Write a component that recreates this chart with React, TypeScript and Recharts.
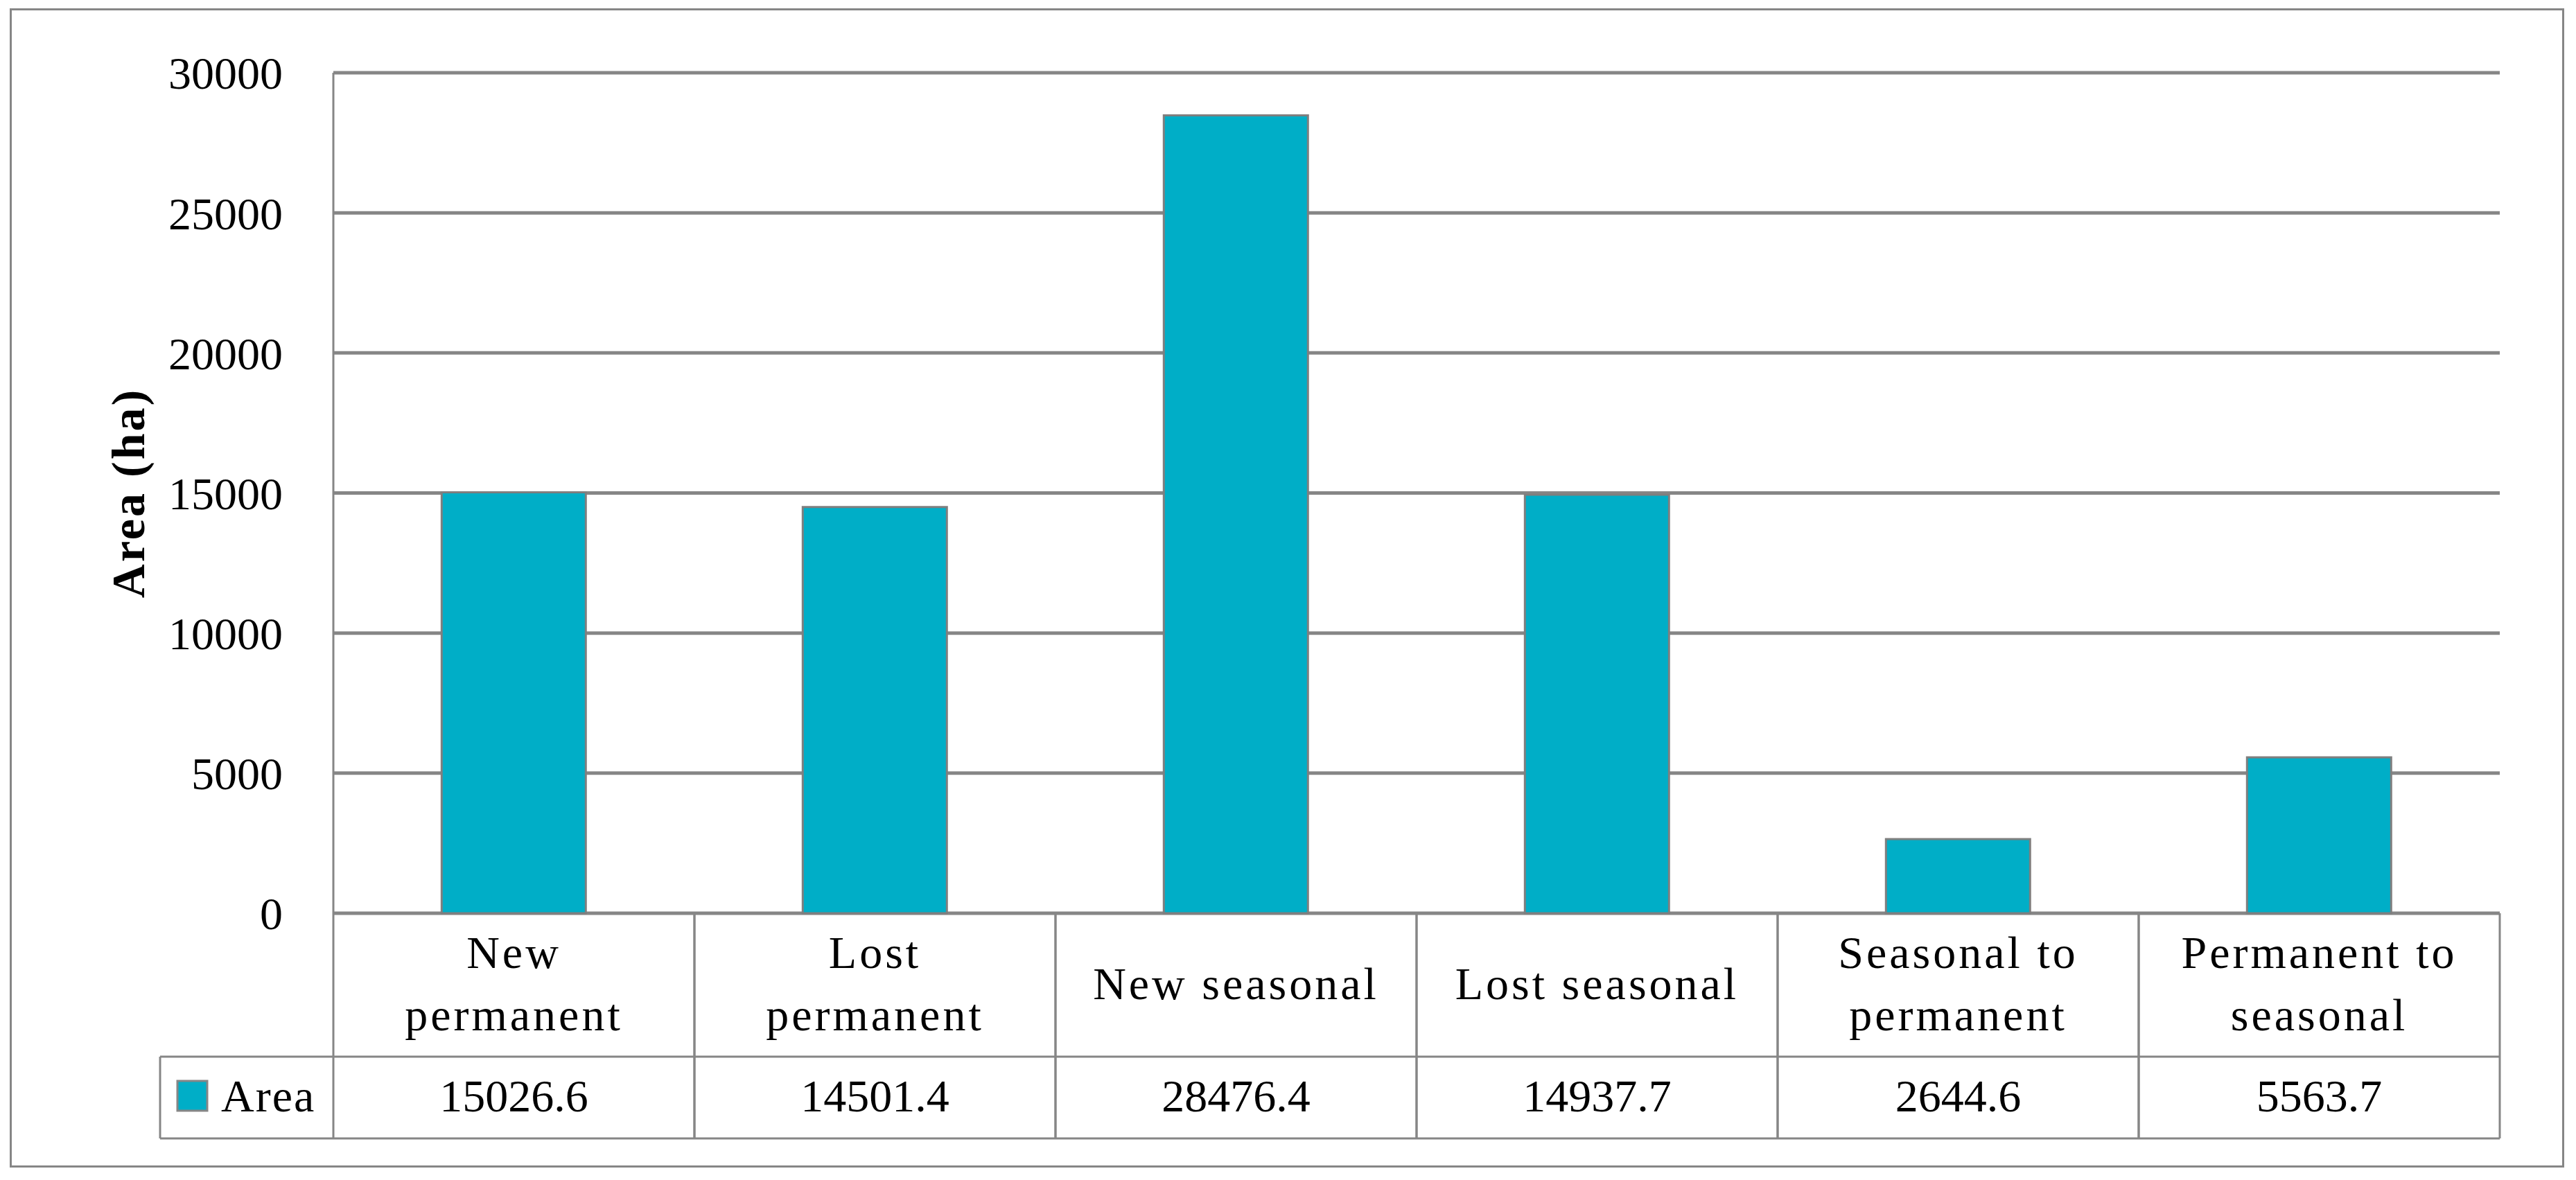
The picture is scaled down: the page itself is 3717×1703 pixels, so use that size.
import { Bar, BarChart, CartesianGrid, XAxis, YAxis } from 'recharts'

const categories = ['New\npermanent', 'Lost\npermanent', 'New seasonal', 'Lost seasonal', 'Seasonal to\npermanent', 'Permanent to\nseasonal']
const areaValues = [15026.6, 14501.4, 28476.4, 14937.7, 2644.6, 5563.7]
const yTicks = [0, 5000, 10000, 15000, 20000, 25000, 30000]
const seriesName = 'Area'
const yTitle = 'Area (ha)'

const data = categories.map((category, i) => ({ category, area: areaValues[i] }))

const W = 3717
const H = 1703
const PLOT_LEFT = 481
const PLOT_RIGHT = 3607
const PLOT_TOP = 105
const PLOT_BOTTOM = 1318
const ROW1 = 207
const ROW2 = 118
const LEGEND_LEFT = 231
const BAND = (PLOT_RIGHT - PLOT_LEFT) / categories.length
const GRAY = '#868686'
const TEAL = '#00AEC7'
const FONT = '"Liberation Serif", "Times New Roman", serif'

const TableTick = (props: any) => {
    const { x, y, payload } = props
    const index = props.index ?? payload.index
    const lines = String(payload.value).split('\n')
    const half = BAND / 2
    const mid1 = y + ROW1 / 2
    const mid2 = y + ROW1 + ROW2 / 2
    const bottom = y + ROW1 + ROW2
    return (
        <g>
            <line x1={x - half} x2={x - half} y1={y} y2={bottom} stroke={GRAY} strokeWidth={3} />
            <line x1={x + half} x2={x + half} y1={y} y2={bottom} stroke={GRAY} strokeWidth={3} />
            <line x1={x - half} x2={x + half} y1={y + ROW1} y2={y + ROW1} stroke={GRAY} strokeWidth={3} />
            <line x1={x - half} x2={x + half} y1={bottom} y2={bottom} stroke={GRAY} strokeWidth={3} />
            <text textAnchor='middle' fontFamily={FONT} fontSize={66} letterSpacing={4} fill='#000'>
                {lines.map((l, i) => (
                    <tspan key={i} x={x} y={mid1 + 20 + (i - (lines.length - 1) / 2) * 90}>{l}</tspan>
                ))}
            </text>
            <text x={x} y={mid2 + 20} textAnchor='middle' fontFamily={FONT} fontSize={66} fill='#000'>
                {areaValues[index].toFixed(1)}
            </text>
            {index === 0 && (
                <g>
                    <line x1={LEGEND_LEFT} x2={x - half} y1={y + ROW1} y2={y + ROW1} stroke={GRAY} strokeWidth={3} />
                    <line x1={LEGEND_LEFT} x2={x - half} y1={bottom} y2={bottom} stroke={GRAY} strokeWidth={3} />
                    <line x1={LEGEND_LEFT} x2={LEGEND_LEFT} y1={y + ROW1} y2={bottom} stroke={GRAY} strokeWidth={3} />
                    <rect x={LEGEND_LEFT + 25} y={mid2 - 24} width={43} height={43} fill={TEAL} stroke={GRAY} strokeWidth={3} />
                    <text x={LEGEND_LEFT + 88} y={mid2 + 20} fontFamily={FONT} fontSize={66} letterSpacing={2} fill='#000'>{seriesName}</text>
                </g>
            )}
        </g>
    )
}

export default function App() {
    return (
        <div style={{ position: 'absolute', left: 0, top: 0, width: W, height: H, background: '#fff' }}>
            <div style={{ position: 'absolute', left: 14, top: 12, width: 3686, height: 1673, border: `3px solid ${GRAY}`, boxSizing: 'border-box' }} />
            <div style={{ position: 'absolute', left: 0, top: 0 }}>
                <BarChart
                    width={W}
                    height={H}
                    data={data}
                    barCategoryGap='30%'
                    margin={{ top: PLOT_TOP, right: W - PLOT_RIGHT, left: PLOT_LEFT - 200, bottom: H - PLOT_BOTTOM - 325 }}
                >
                    <CartesianGrid vertical={false} stroke={GRAY} strokeWidth={5} />
                    <XAxis
                        dataKey='category'
                        interval={0}
                        height={325}
                        tickSize={0}
                        tickMargin={0}
                        axisLine={false}
                        tickLine={false}
                        tick={TableTick}
                    />
                    <YAxis
                        width={200}
                        domain={[0, 30000]}
                        ticks={yTicks}
                        interval={0}
                        tickSize={0}
                        tickMargin={73}
                        tickLine={false}
                        axisLine={{ stroke: GRAY, strokeWidth: 3 }}
                        tick={{ fill: '#000', fontSize: 66, fontFamily: FONT }}
                        label={{
                            content: () => (
                                <text
                                    x={185}
                                    y={(PLOT_TOP + PLOT_BOTTOM) / 2}
                                    transform={`rotate(-90, 185, ${(PLOT_TOP + PLOT_BOTTOM) / 2})`}
                                    textAnchor='middle'
                                    dominantBaseline='central'
                                    fontFamily={FONT}
                                    fontWeight='bold'
                                    fontSize={68}
                                    letterSpacing={3}
                                    fill='#000'
                                >
                                    {yTitle}
                                </text>
                            ),
                        }}
                    />
                    <Bar dataKey='area' name={seriesName} fill={TEAL} stroke='#7f7f7f' strokeWidth={3} isAnimationActive={false} />
                </BarChart>
            </div>
        </div>
    )
}
